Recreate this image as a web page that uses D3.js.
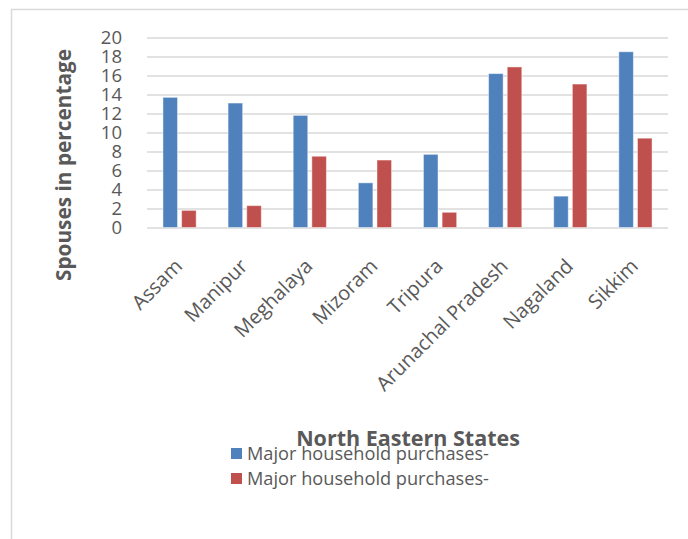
<!DOCTYPE html>
<html>
<head>
<meta charset="utf-8">
<script src="https://cdn.jsdelivr.net/npm/d3@7"></script>
<style>
  html, body { margin: 0; padding: 0; background: #fff; }
  svg { display: block; }
  text { font-family: "Open Sans", "DejaVu Sans", sans-serif; fill: #595959; }
</style>
</head>
<body>
<svg id="chart" width="688" height="539"></svg>
<script>
// States along the x axis
const states = ["Assam", "Manipur", "Meghalaya", "Mizoram", "Tripura",
                "Arunachal Pradesh", "Nagaland", "Sikkim"];
// Two series, both labelled "Major household purchases-"
const seriesNames = ["Major household purchases-", "Major household purchases-"];
const seriesA = [13.7, 13.1, 11.8, 4.7, 7.7, 16.2, 3.3, 18.5];
const seriesB = [1.8, 2.3, 7.5, 7.1, 1.6, 16.9, 15.1, 9.4];
const yTicks = [0, 2, 4, 6, 8, 10, 12, 14, 16, 18, 20];
const colors = ["#4F81BD", "#C0504D"];

const svg = d3.select("#chart");

// Outer chart frame (left and top edges visible)
svg.append("path")
  .attr("d", "M11.5,539 L11.5,9.5 L688,9.5")
  .attr("fill", "none")
  .attr("stroke", "#d9d9d9")
  .attr("stroke-width", 1.5);

const plot = { left: 147, right: 668, top: 37.5, bottom: 227.5 };

const x = d3.scaleBand()
  .domain(states)
  .range([plot.left, plot.right])
  .paddingInner(0.49)
  .paddingOuter(0.245);

const xSub = d3.scaleBand()
  .domain([0, 1])
  .range([0, x.bandwidth()])
  .paddingInner(0.22);

const y = d3.scaleLinear()
  .domain([0, 20])
  .range([plot.bottom, plot.top]);

// Horizontal gridlines
const grid = svg.append("g")
  .attr("transform", `translate(${plot.left},0)`)
  .call(d3.axisLeft(y).tickValues(yTicks).tickSize(-(plot.right - plot.left)).tickFormat(""));
grid.select(".domain").remove();
grid.selectAll("line").attr("stroke", "#d9d9d9").attr("stroke-width", 1.5);

// Y tick labels
const yAxis = svg.append("g")
  .attr("transform", `translate(${plot.left},0)`)
  .call(d3.axisLeft(y).tickValues(yTicks).tickSize(0).tickPadding(25));
yAxis.select(".domain").remove();
yAxis.selectAll("text")
  .style("font-size", "18.5px")
  .attr("fill", "#595959")
  .attr("dy", "0.35em");

// Bars
const series = [seriesA, seriesB];
series.forEach((vals, si) => {
  svg.append("g").selectAll("rect")
    .data(vals)
    .join("rect")
    .attr("x", (d, i) => x(states[i]) + xSub(si))
    .attr("y", d => y(d))
    .attr("width", xSub.bandwidth())
    .attr("height", d => y(0) - y(d))
    .attr("fill", colors[si])
    .attr("stroke", "rgba(255,255,255,0.45)")
    .attr("stroke-width", 1);
});

// X category labels, rotated
const xAxis = svg.append("g")
  .attr("transform", `translate(0,${plot.bottom})`)
  .call(d3.axisBottom(x).tickSize(0).tickPadding(0));
xAxis.select(".domain").remove();
xAxis.selectAll("text")
  .style("font-size", "20px")
  .attr("fill", "#595959")
  .attr("text-anchor", "end")
  .attr("dy", null)
  .attr("y", 0)
  .attr("transform", "translate(4,40) rotate(-45)");

// Axis titles
svg.append("text")
  .attr("transform", "translate(71,165) rotate(-90)")
  .attr("text-anchor", "middle")
  .style("font-size", "20.8px")
  .style("font-weight", "bold")
  .text("Spouses in percentage");

svg.append("text")
  .attr("x", 408)
  .attr("y", 446)
  .attr("text-anchor", "middle")
  .style("font-size", "21.5px")
  .style("font-weight", "bold")
  .text("North Eastern States");

// Legend
const legend = svg.append("g");
seriesNames.forEach((name, i) => {
  const row = legend.append("g").attr("transform", `translate(231,${448 + i * 25})`);
  row.append("rect")
    .attr("width", 11).attr("height", 11)
    .attr("fill", colors[i]);
  row.append("text")
    .attr("x", 16).attr("y", 11.5)
    .style("font-size", "18.2px")
    .text(name);
});
</script>
</body>
</html>
